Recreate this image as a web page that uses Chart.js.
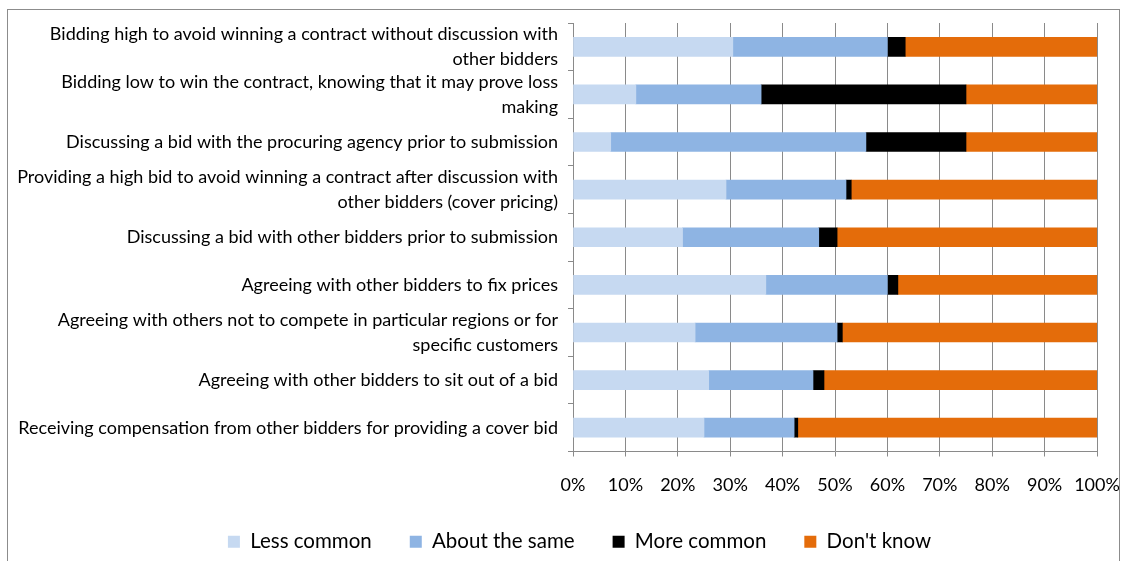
<!DOCTYPE html>
<html>
<head>
<meta charset="utf-8">
<script src="https://cdn.jsdelivr.net/npm/chart.js@4.4.1/dist/chart.umd.min.js"></script>
<style>
  html, body { margin: 0; padding: 0; background: #ffffff; }
  #frame {
    position: absolute; left: 7px; top: 9px;
    width: 1113px; height: 560px;
    border: 1px solid #8c8c8c; box-sizing: border-box;
    background: #ffffff;
  }
  #wrap { position: absolute; left: 0; top: 0; width: 1111px; height: 558px; }
</style>
</head>
<body>
<div id="frame"><div id="wrap"><canvas id="c"></canvas></div></div>
<script>
// Survey categories (top to bottom), wrapped as on the axis
const categories = [
  ["Bidding high to avoid winning a contract without discussion with", "other bidders"],
  ["Bidding low to win the contract, knowing that it may prove loss", "making"],
  "Discussing a bid with the procuring agency prior to submission",
  ["Providing a high bid to avoid winning a contract after discussion with", "other bidders (cover pricing)"],
  "Discussing a bid with other bidders prior to submission",
  "Agreeing with other bidders to fix prices",
  ["Agreeing with others not to compete in particular regions or for", "specific customers"],
  "Agreeing with other bidders to sit out of a bid",
  "Receiving compensation from other bidders for providing a cover bid"
];

// Share of respondents (%) per answer
const lessCommon   = [30.5, 12.0,  7.2, 29.2, 20.9, 36.8, 23.3, 25.9, 25.0];
const aboutSame    = [29.5, 23.9, 48.7, 22.9, 26.0, 23.2, 27.1, 19.9, 17.2];
const moreCommon   = [ 3.4, 39.1, 19.1,  1.0,  3.5,  2.0,  1.0,  2.1,  0.7];
const dontKnow     = [36.6, 25.0, 25.0, 46.9, 49.6, 38.0, 48.6, 52.1, 57.1];

const seriesNames = ["Less common", "About the same", "More common", "Don't know"];
const seriesColors = ["#C6D9F1", "#8EB4E3", "#000000", "#E46C0A"];
const xTicks = [0, 10, 20, 30, 40, 50, 60, 70, 80, 90, 100];

const FONT = "Lato, 'Open Sans', sans-serif";
const GRID = "#8a8a8a";

const seriesData = [lessCommon, aboutSame, moreCommon, dontKnow];

// The legend row sits a little right of centre
const legendShift = {
  id: "legendShift",
  afterLayout(chart) {
    const lg = chart.legend;
    if (!lg) return;
    lg.left += 27;
    lg.right += 27;
  }
};

new Chart(document.getElementById("c"), {
  type: "bar",
  data: {
    labels: categories,
    datasets: seriesData.map((vals, i) => ({
      label: seriesNames[i],
      data: vals,
      backgroundColor: seriesColors[i],
      borderWidth: 0,
      barThickness: 19
    }))
  },
  plugins: [legendShift],
  options: {
    indexAxis: "y",
    responsive: true,
    maintainAspectRatio: false,
    animation: false,
    layout: { padding: { left: 0, top: 13, right: 22, bottom: 6 } },
    scales: {
      x: {
        stacked: true,
        min: 0, max: 100,
        afterBuildTicks: (s) => { s.ticks = xTicks.map(v => ({ value: v })); },
        afterFit: (s) => { s.paddingLeft = 0; s.paddingRight = 0; s.height = 42; },
        ticks: {
          callback: (v) => v + "%",
          color: "#000000",
          font: { family: FONT, size: 18 },
          padding: 18,
          maxRotation: 0
        },
        grid: { color: GRID, lineWidth: 1, tickLength: 5, drawTicks: true },
        border: { color: GRID }
      },
      y: {
        stacked: true,
        offset: true,
        afterFit: (s) => { s.width = 565; s.paddingTop = 0; s.paddingBottom = 0; },
        ticks: {
          color: "#000000",
          font: { family: FONT, size: 18, lineHeight: 1.4 },
          padding: 10,
          autoSkip: false
        },
        grid: { display: true, offset: true, drawOnChartArea: false, color: GRID, tickLength: 5 },
        border: { color: GRID }
      }
    },
    plugins: {
      tooltip: { enabled: false },
      legend: {
        position: "bottom",
        labels: {
          color: "#000000",
          font: { family: FONT, size: 20.5 },
          boxWidth: 12,
          boxHeight: 12,
          padding: 38
        }
      }
    }
  }
});
</script>
</body>
</html>
